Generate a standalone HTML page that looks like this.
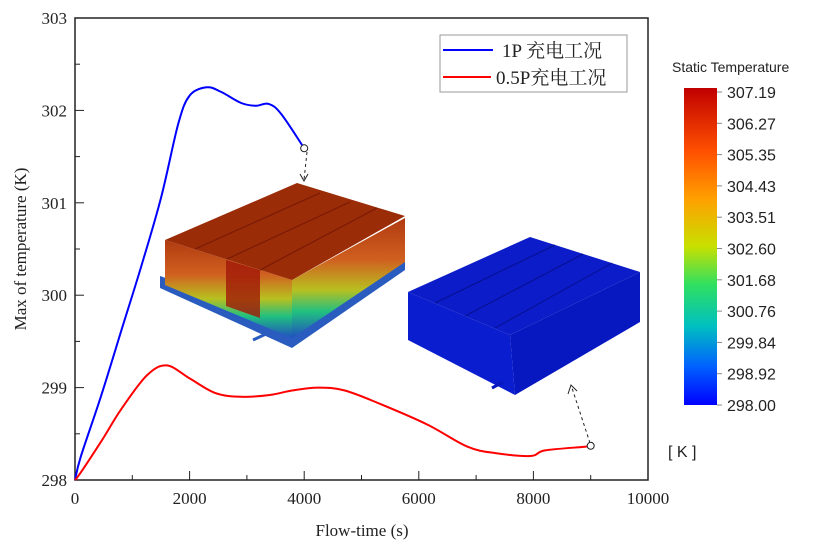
<!DOCTYPE html>
<html><head><meta charset="utf-8"><style>
html,body{margin:0;padding:0;background:#fff;}
svg{display:block;}
.t{font-family:"Liberation Serif","Noto Serif CJK SC",serif;font-size:17px;fill:#222;}
.s{font-family:"Liberation Sans",sans-serif;font-size:15px;fill:#222;}
</style></head><body>
<svg id="chart" width="821" height="556" viewBox="0 0 821 556">
<defs>
<linearGradient id="cb" x1="0" y1="0" x2="0" y2="1">
<stop offset="0" stop-color="#c00000"/><stop offset="0.2" stop-color="#ff5000"/>
<stop offset="0.35" stop-color="#ffa000"/><stop offset="0.5" stop-color="#c8e000"/>
<stop offset="0.62" stop-color="#30e060"/><stop offset="0.75" stop-color="#00c0c0"/>
<stop offset="0.88" stop-color="#0060ff"/><stop offset="1" stop-color="#0000ff"/></linearGradient>
<linearGradient id="side" x1="0" y1="0" x2="0" y2="1">
<stop offset="0" stop-color="#b03a10"/><stop offset="0.35" stop-color="#d06020"/>
<stop offset="0.6" stop-color="#b8c020"/><stop offset="0.78" stop-color="#20c080"/>
<stop offset="1" stop-color="#2050c0"/></linearGradient>
</defs>
<g id="plot"></g>
<g>
<polygon points="160,276 292,322 405,258 405,270 292,348 160,288" fill="#2a5cc0"/>
<polygon points="165,240 292,280 292,338 165,285" fill="url(#side)"/>
<polygon points="292,280 405,218 405,262 292,338" fill="url(#side)"/>
<polygon points="226,260 260,270 260,318 226,306" fill="#a01808" opacity="0.8"/>
<polygon points="165,240 297,183 405,216 292,280" fill="#9a2c08"/>
<line x1="195" y1="249" x2="320" y2="193" stroke="#7a1a04" stroke-width="1.2"/>
<line x1="227" y1="259" x2="350" y2="202" stroke="#7a1a04" stroke-width="1.2"/>
<line x1="260" y1="270" x2="377" y2="208" stroke="#7a1a04" stroke-width="1.2"/>
<line x1="253" y1="340" x2="268" y2="333" stroke="#2a5cc0" stroke-width="3"/>
</g>
<g>
<polygon points="408,292 510,335 515,395 408,340" fill="#0a1ed0"/>
<polygon points="510,335 640,272 640,322 515,395" fill="#0818c0"/>
<polygon points="408,292 530,237 640,272 510,335" fill="#0c1cc8"/>
<line x1="435" y1="303" x2="555" y2="245" stroke="#061090" stroke-width="1"/>
<line x1="465" y1="316" x2="583" y2="254" stroke="#061090" stroke-width="1"/>
<line x1="495" y1="328" x2="612" y2="263" stroke="#061090" stroke-width="1"/>
<line x1="492" y1="388" x2="503" y2="382" stroke="#0818c0" stroke-width="3"/>
</g>
<line x1="307" y1="152" x2="304" y2="180" stroke="#222" stroke-dasharray="3,3"/>
<polyline points="300,174 304,181 308,174" fill="none" stroke="#222"/>
<line x1="590" y1="443" x2="572" y2="388" stroke="#222" stroke-dasharray="3,3"/>
<polyline points="568,394 571,385 577,391" fill="none" stroke="#222"/>
<g>
<rect x="440" y="35" width="187" height="57" fill="#fff" stroke="#999"/>
<line x1="443" y1="50" x2="493" y2="50" stroke="#0000ff" stroke-width="2"/>
<text class="t" x="502" y="57" style="font-size:19px">1P  充电工况</text>
<line x1="443" y1="77" x2="491" y2="77" stroke="#ff0000" stroke-width="2"/>
<text class="t" x="496" y="84" style="font-size:19px">0.5P充电工况</text>
</g>
<g>
<text class="s" x="672" y="72" style="font-size:14px">Static Temperature</text>
<rect x="684" y="88" width="33" height="317" fill="url(#cb)"/>
<g id="cbl"></g>
<text class="s" x="668" y="457" style="font-size:16px">[ K ]</text>
</g>
</svg>
<script>
const xTicks=[0,2000,4000,6000,8000,10000];
const yTicks=[298,299,300,301,302,303];
const t1=[0,100,450,800,1150,1500,1800,2000,2300,2550,2900,3150,3380,3600,4000];
const v1=[298,298.25,298.9,299.6,300.3,301.05,301.85,302.16,302.25,302.2,302.08,302.05,302.07,301.96,301.59];
const t2=[0,100,470,800,1250,1600,2000,2450,2900,3400,3800,4250,4700,5300,6150,6850,7350,7950,8200,8900,9000];
const v2=[298,298.08,298.43,298.76,299.13,299.24,299.1,298.94,298.9,298.92,298.97,299.0,298.97,298.83,298.6,298.36,298.29,298.26,298.32,298.36,298.37];
const cbLabels=["307.19","306.27","305.35","304.43","303.51","302.60","301.68","300.76","299.84","298.92","298.00"];
const NS="http://www.w3.org/2000/svg";
const X0=75,X1=648,Y0=480,Y1=18;
const sx=t=>X0+(t-0)/(10000)*(X1-X0);
const sy=v=>Y0-(v-298)/5*(Y0-Y1);
function mk(tag,a,p){const e=document.createElementNS(NS,tag);for(const k in a)e.setAttribute(k,a[k]);(p||plot).appendChild(e);return e;}
const plot=document.getElementById('plot');
let f=mk('rect',{x:X0,y:Y1,width:X1-X0,height:Y0-Y1,fill:'none',stroke:'#222','stroke-width':1.5});


for(let t=0;t<=10000;t+=1000){const L=t%2000===0?9:5;mk('line',{x1:sx(t),y1:Y0,x2:sx(t),y2:Y0-L,stroke:'#222'});}
for(let v=298;v<=303;v+=0.5){const L=Number.isInteger(v)?9:5;mk('line',{x1:X0,y1:sy(v),x2:X0+L,y2:sy(v),stroke:'#222'});}
xTicks.forEach(t=>{const e=mk('text',{x:sx(t),y:Y0+24,'text-anchor':'middle',class:'t'});e.textContent=t;

});
yTicks.forEach(v=>{const e=mk('text',{x:X0-8,y:sy(v)+6,'text-anchor':'end',class:'t'});e.textContent=v;

});
let xl=mk('text',{x:362,y:536,'text-anchor':'middle',class:'t'});xl.textContent='Flow-time (s)';


let yl=mk('text',{x:0,y:0,'text-anchor':'middle',class:'t',transform:'translate(26,249) rotate(-90)'});yl.textContent='Max of temperature (K)';


function path(ts,vs,c,n){
const P=ts.map((t,i)=>[sx(t),sy(vs[i])]);
let d='M'+P[0][0].toFixed(1)+','+P[0][1].toFixed(1);
for(let i=0;i<P.length-1;i++){const p0=P[Math.max(i-1,0)],p1=P[i],p2=P[i+1],p3=P[Math.min(i+2,P.length-1)];
const c1=[p1[0]+(p2[0]-p0[0])/6,p1[1]+(p2[1]-p0[1])/6],c2=[p2[0]-(p3[0]-p1[0])/6,p2[1]-(p3[1]-p1[1])/6];
d+='C'+c1.map(v=>v.toFixed(1))+' '+c2.map(v=>v.toFixed(1))+' '+p2.map(v=>v.toFixed(1));}
const p=mk('path',{d:d,fill:'none',stroke:c,'stroke-width':2,'stroke-linejoin':'round'},document.getElementById('chart'));


const e=mk('circle',{cx:sx(ts[ts.length-1]),cy:sy(vs[vs.length-1]),r:3.5,fill:'#fff',stroke:'#222'},document.getElementById('chart'));

}
path(t1,v1,'#0000ff','series-1p');
path(t2,v2,'#ff0000','series-05p');
const cbl=document.getElementById('cbl');
cbLabels.forEach((s,i)=>{const y=92+i*31.3;mk('line',{x1:717,y1:y,x2:722,y2:y,stroke:'#888'},cbl);
const e=mk('text',{x:727,y:y+6,class:'s',style:'font-size:16px'},cbl);e.textContent=s;

});
</script>
</body></html>
